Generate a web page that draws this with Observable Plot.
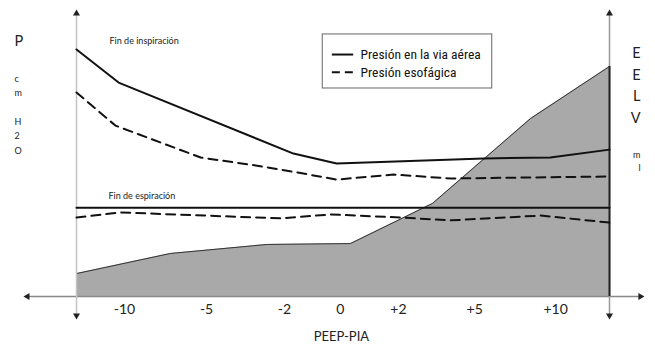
<!DOCTYPE html>
<html><head><meta charset="utf-8">
<script src="https://cdn.jsdelivr.net/npm/d3@7"></script>
<script src="https://cdn.jsdelivr.net/npm/@observablehq/plot@0.6"></script>
<style>body{margin:0;background:#fff} #chart{width:655px;height:348px}</style>
</head><body><div id="chart"></div>
<script>
// x: position along the PEEP-PIA axis (0 = left axis, 100 = right axis); y: relative units (0 = baseline, 100 = top)
const tickPos = [9.0, 24.4, 39.0, 49.5, 60.4, 74.7, 89.9];
const tickLabels = ["-10", "-5", "-2", "0", "+2", "+5", "+10"];

const inspAirwayX = [0, 7.9, 40.7, 48.8, 76.4, 88.9, 100];
const inspAirway  = [87.3, 75.6, 50.5, 47.0, 48.8, 49.1, 51.9];

const inspEsoX = [0, 7.3, 23.3, 33.6, 41.5, 48.8, 59.5, 70.2, 100];
const inspEso  = [72.1, 60.4, 49.1, 46.3, 43.8, 41.3, 43.1, 41.7, 42.4];

const expAirwayX = [0, 100];
const expAirway  = [31.4, 31.4];

const expEsoX = [0, 8.3, 38.3, 47.7, 60.8, 70.2, 87.1, 100];
const expEso  = [27.9, 29.7, 27.6, 29.0, 27.9, 26.9, 28.6, 26.1];

const eelvX = [0, 17.6, 35.8, 51.4, 66.8, 85.2, 100];
const eelv  = [8.1, 15.2, 18.4, 18.7, 32.9, 62.9, 81.3];

const legendLabels = ["Presión en la via aérea", "Presión esofágica"];
const leftLabel = ["P", "c", "m", "H", "2", "O"];
const rightLabel = ["E", "E", "L", "V", "m", "l"];

const zip = (xs, ys) => xs.map((x, i) => ({x, y: ys[i]}));
const ticks = tickPos.map((x, i) => ({x, label: tickLabels[i]}));
const eelvData = zip(eelvX, eelv);

// vertical placement (px from frame top) and size for the stacked axis letters
const leftDy = [22, 62, 76, 105, 119, 134];
const leftSize = [14.5, 9, 9, 9, 9, 9];
const rightDy = [34, 56, 77, 99, 138, 151];
const rightSize = [14.5, 14.5, 14.5, 14.5, 9, 9];

const ink = "#111";
const letterMarks = [
  ...leftLabel.map((t, i) => Plot.text([t], {frameAnchor: "top-left", dx: -62, dy: leftDy[i], fontSize: leftSize[i], fill: "#222"})),
  ...rightLabel.map((t, i) => Plot.text([t], {frameAnchor: "top-right", dx: 31, dy: rightDy[i], fontSize: rightSize[i], fill: "#222"}))
];

const chart = Plot.plot({
  width: 655, height: 348,
  marginLeft: 76, marginRight: 46, marginTop: 13, marginBottom: 52,
  x: {domain: [0, 100], axis: null},
  y: {domain: [0, 100], axis: null},
  style: {fontFamily: "Lato, sans-serif", color: ink, background: "#fff"},
  marks: [
    // EELV area
    Plot.areaY(eelvData, {x: "x", y: "y", fill: "#a9a9a9"}),
    Plot.lineY(eelvData, {x: "x", y: "y", stroke: "#333", strokeWidth: 1}),
    // axes
    Plot.ruleY([0], {x1: -9.2, x2: 105.8, stroke: "#888", strokeWidth: 1.5}),
    Plot.ruleX([0], {y1: -6.7, y2: 100, stroke: "#c4c4c4", strokeWidth: 1.5}),
    Plot.ruleX([100], {y1: -6.7, y2: 100, stroke: "#999", strokeWidth: 1.5}),
    Plot.ruleX([100], {y1: 0, y2: eelv[eelv.length - 1], stroke: "#222", strokeWidth: 2}),
    Plot.dot([{x: -9.2, y: 0, r: -90}, {x: 105.8, y: 0, r: 90}, {x: 0, y: 100, r: 0}, {x: 100, y: 100, r: 0}, {x: 0, y: -6.7, r: 180}, {x: 100, y: -6.7, r: 180}],
      {x: "x", y: "y", rotate: "r", symbol: "triangle", r: 2.6, fill: "#222", stroke: "none"}),
    // tick labels
    Plot.text(ticks, {x: "x", text: "label", frameAnchor: "bottom", dy: 17, fontSize: 14, fill: "#222"}),
    Plot.text(["PEEP-PIA"], {x: 49.7, frameAnchor: "bottom", dy: 44, fontSize: 13, fill: "#222"}),
    // side labels
    ...letterMarks,
    // pressure lines
    Plot.lineY(zip(inspAirwayX, inspAirway), {x: "x", y: "y", stroke: ink, strokeWidth: 2}),
    Plot.lineY(zip(inspEsoX, inspEso), {x: "x", y: "y", stroke: ink, strokeWidth: 2, strokeDasharray: "9,6"}),
    Plot.lineY(zip(expAirwayX, expAirway), {x: "x", y: "y", stroke: ink, strokeWidth: 2}),
    Plot.lineY(zip(expEsoX, expEso), {x: "x", y: "y", stroke: ink, strokeWidth: 2, strokeDasharray: "9,6"}),
    // annotations
    Plot.text(["Fin de inspiración"], {x: 6.2, y: 90.1, textAnchor: "start", fontSize: 9, fill: "#222"}),
    Plot.text(["Fin de espiración"], {x: 6.0, y: 35.3, textAnchor: "start", fontSize: 9, fill: "#222"}),
    // legend
    Plot.rect([0], {x1: 46.2, x2: 78.0, y1: 73.5, y2: 92.6, fill: "#fff", stroke: "#666", strokeWidth: 1}),
    Plot.ruleY([85.5], {x1: 48.0, x2: 52.0, stroke: ink, strokeWidth: 2}),
    Plot.ruleY([79.2], {x1: 48.0, x2: 52.0, stroke: ink, strokeWidth: 2, strokeDasharray: "8,5"}),
    Plot.text(legendLabels, {x: 53.3, y: (d, i) => [85.5, 79.2][i], textAnchor: "start", fontSize: 13.5, fontFamily: "'Liberation Sans Narrow', 'Roboto Condensed', sans-serif", fill: ink})
  ]
});
document.getElementById("chart").append(chart);
</script>
</body></html>
